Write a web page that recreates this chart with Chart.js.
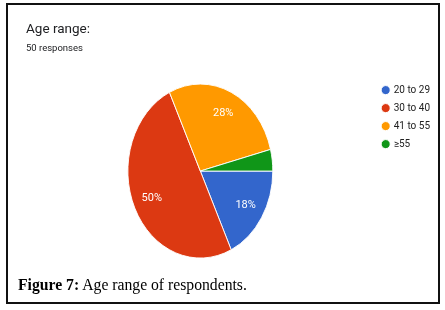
<!DOCTYPE html>
<html>
<head>
<meta charset="utf-8">
<script src="https://cdn.jsdelivr.net/npm/chart.js@4.4.0/dist/chart.umd.min.js"></script>
<style>
  html, body { margin: 0; padding: 0; background: #fff; }
  body { width: 445px; height: 310px; position: relative; overflow: hidden; }
  #chartBox { position: absolute; left: 0; top: 0; width: 445px; height: 270px; }
  #frame { position: absolute; left: 6px; top: 3px; width: 434px; height: 301px;
           box-sizing: border-box; border: 2px solid #111; pointer-events: none; }
  #caption { position: absolute; left: 18px; top: 277px; font: 15.7px/15px "Liberation Serif", "Times New Roman", serif;
             color: #000; white-space: nowrap; }
</style>
</head>
<body>
<div id="chartBox"><canvas id="ageChart"></canvas></div>
<div id="frame"></div>
<div id="caption"><b>Figure 7:</b> Age range of respondents.</div>
<script>
const ageGroups = ['20 to 29', '30 to 40', '41 to 55', '≥55'];
const responses = [9, 25, 14, 2];
const sliceColors = ['#3366CC', '#DC3912', '#FF9900', '#109618'];

const total = responses.reduce((a, b) => a + b, 0);

// the scanned pie is narrower than it is tall
const squashX = 0.833;

const pieLook = {
    id: 'pieLook',
    beforeDatasetsDraw(chart) {
        const arc = chart.getDatasetMeta(0).data[0];
        const ctx = chart.ctx;
        ctx.save();
        ctx.translate(arc.x, arc.y);
        ctx.scale(squashX, 1);
        ctx.translate(-arc.x, -arc.y);
    },
    afterDatasetsDraw(chart) {
        const ctx = chart.ctx;
        ctx.restore();
        const meta = chart.getDatasetMeta(0);
        ctx.save();
        ctx.fillStyle = '#fff';
        ctx.font = '11px Roboto';
        ctx.textAlign = 'center';
        ctx.textBaseline = 'middle';
        meta.data.forEach((arc, i) => {
            const pct = Math.round(responses[i] / total * 100);
            if (pct < 5) return;
            const mid = (arc.startAngle + arc.endAngle) / 2;
            const r = arc.outerRadius * 0.74;
            ctx.fillText(pct + '%', arc.x + Math.cos(mid) * r * squashX, arc.y + Math.sin(mid) * r);
        });
        ctx.restore();
    }
};

const ctx1 = document.getElementById('ageChart').getContext('2d');

const data = {
    labels: ageGroups,
    datasets: [
        {
            data: responses,
            backgroundColor: sliceColors,
            borderColor: '#fff',
            borderWidth: 1,
            hoverOffset: 0
        }
    ]
};

const config = {
    type: 'pie',
    data: data,
    options: {
        responsive: true,
        maintainAspectRatio: false,
        animation: false,
        rotation: 90,
        radius: 87,
        layout: {
            padding: { left: 26, right: 5, top: 0, bottom: 5 }
        },
        plugins: {
            title: {
                display: true,
                text: 'Age range:',
                align: 'start',
                color: '#202124',
                font: { family: 'Roboto', size: 13.5, weight: 'normal' },
                padding: { top: 21.5, bottom: 0 }
            },
            subtitle: {
                display: true,
                text: total + ' responses',
                align: 'start',
                color: '#202124',
                font: { family: 'Roboto', size: 9.5, weight: 'normal' },
                padding: { top: 5.5, bottom: 22.5 }
            },
            legend: {
                position: 'right',
                align: 'start',
                fullSize: false,
                labels: {
                    usePointStyle: true,
                    pointStyle: 'circle',
                    boxWidth: 6,
                    boxHeight: 6.4,
                    padding: 8,
                    color: '#222',
                    font: { family: 'Roboto', size: 10 }
                }
            },
            tooltip: { enabled: false }
        }
    },
    plugins: [pieLook]
};

const chart1 = new Chart(ctx1, config);
</script>
</body>
</html>
